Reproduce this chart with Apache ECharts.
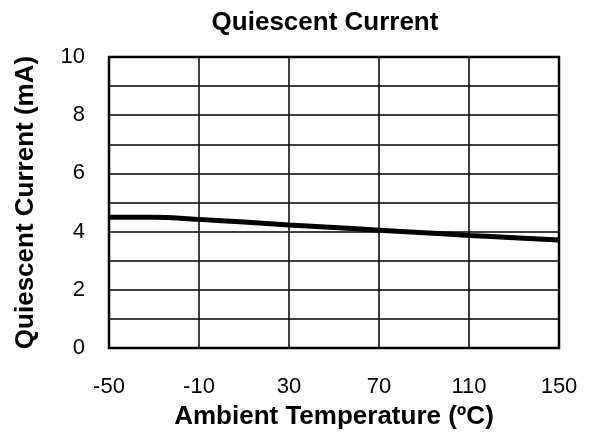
<!DOCTYPE html>
<html>
<head>
<meta charset="utf-8">
<script src="https://cdn.jsdelivr.net/npm/echarts@6/dist/echarts.min.js"></script>
<style>
  html, body { margin: 0; padding: 0; background: #fff; }
  #chart { width: 591px; height: 438px; }
</style>
</head>
<body>
<div id="chart"></div>
<script>
// values
const temperatures = [-50, -30, -10, 10, 30, 50, 70, 90, 110, 130, 150];
const currentMA = [4.49, 4.49, 4.42, 4.33, 4.23, 4.14, 4.05, 3.96, 3.87, 3.79, 3.71];
const X_MIN = -50; // axis starts here, ticks every 40
const X_MAX = 150;

const FONT = "'Liberation Sans', Arial, sans-serif";

const chart = echarts.init(document.getElementById("chart"));

// x is shifted by X_MIN so that ticks fall on -50, -10, 30 ... (interval counts from 0)
const seriesData = temperatures.map((t, i) => [t - X_MIN, currentMA[i]]);

chart.setOption({
  animation: false,
  title: {
    text: "Quiescent Current",
    left: 320,
    top: 5,
    textAlign: "center",
    textStyle: { fontFamily: FONT, fontSize: 26, fontWeight: "bold", color: "#000" },
  },
  grid: {
    left: 109,
    right: 32,
    top: 57,
    bottom: 90,
    show: true,
    borderColor: "#000",
    borderWidth: 2.5,
  },
  xAxis: {
    type: "value",
    min: 0,
    max: X_MAX - X_MIN,
    interval: 40,
    name: "Ambient Temperature (ºC)",
    nameLocation: "middle",
    nameGap: 56,
    nameTextStyle: { fontFamily: FONT, fontSize: 26, fontWeight: "bold", color: "#000" },
    axisLine: { show: false },
    axisTick: { show: false },
    axisLabel: {
      margin: 28,
      fontFamily: FONT,
      fontSize: 22,
      color: "#000",
      formatter: (v) => String(v + X_MIN),
    },
    splitLine: { show: true, lineStyle: { color: "#000", width: 1.5 } },
  },
  yAxis: {
    type: "value",
    min: 0,
    max: 10,
    interval: 1,
    name: "Quiescent Current (mA)",
    nameLocation: "middle",
    nameGap: 70,
    nameTextStyle: { fontFamily: FONT, fontSize: 26, fontWeight: "bold", color: "#000" },
    axisLine: { show: false },
    axisTick: { show: false },
    axisLabel: {
      margin: 24,
      fontFamily: FONT,
      fontSize: 22,
      color: "#000",
      formatter: (v) => (v % 2 === 0 ? String(v) : ""),
    },
    splitLine: { show: true, lineStyle: { color: "#000", width: 1.5 } },
  },
  series: [
    {
      type: "line",
      data: seriesData,
      smooth: 0.3,
      symbol: "none",
      lineStyle: { color: "#000", width: 5 },
    },
  ],
});
</script>
</body>
</html>
